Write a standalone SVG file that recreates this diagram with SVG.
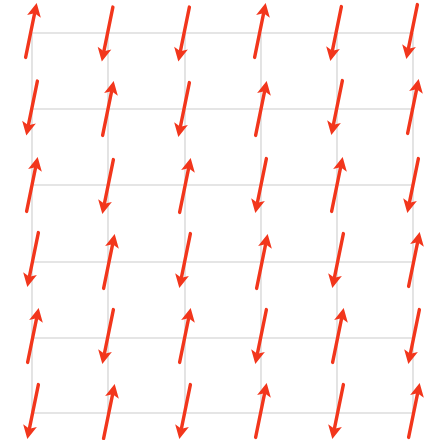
<svg xmlns="http://www.w3.org/2000/svg" xmlns:xlink="http://www.w3.org/1999/xlink" width="434" height="440" viewBox="0 0 434 440">
<style>
.grid line{stroke:#dddddd;stroke-width:1.6;fill:none}
.shaft{stroke:#f2361c;stroke-width:3.4;stroke-linecap:round;fill:none}
.head{fill:#f2361c;stroke:none}
</style>
<defs>
<g id="spin">
<line class="shaft" x1="0" y1="27" x2="0" y2="-17"/>
<polygon class="head" points="0,-28.5 7,-15 0,-18 -7,-15"/>
</g>
</defs>
<rect width="434" height="440" fill="#ffffff"/>
<g id="connectors" class="grid">
<line x1="32" y1="33" x2="413" y2="33"/>
<line x1="32" y1="109" x2="413" y2="109"/>
<line x1="32" y1="185" x2="413" y2="185"/>
<line x1="32" y1="262" x2="413" y2="262"/>
<line x1="32" y1="338" x2="413" y2="338"/>
<line x1="32" y1="413" x2="413" y2="413"/>
<line x1="32" y1="33" x2="32" y2="413"/>
<line x1="108" y1="33" x2="108" y2="413"/>
<line x1="185" y1="33" x2="185" y2="413"/>
<line x1="261" y1="33" x2="261" y2="413"/>
<line x1="337" y1="33" x2="337" y2="413"/>
<line x1="413" y1="33" x2="413" y2="413"/>
</g>
<!-- row 0 -->
<g id="s00"><use xlink:href="#spin" transform="translate(31,31) rotate(11.5)"/></g>
<g id="s01"><use xlink:href="#spin" transform="translate(107.5,33.5) rotate(191.5)"/></g>
<g id="s02"><use xlink:href="#spin" transform="translate(184,33.5) rotate(191.5)"/></g>
<g id="s03"><use xlink:href="#spin" transform="translate(260,31) rotate(11.5)"/></g>
<g id="s04"><use xlink:href="#spin" transform="translate(336,33) rotate(191.5)"/></g>
<g id="s05"><use xlink:href="#spin" transform="translate(412,31) rotate(191.5)"/></g>
<!-- row 1 -->
<g id="s10"><use xlink:href="#spin" transform="translate(32,107.5) rotate(191.5)"/></g>
<g id="s11"><use xlink:href="#spin" transform="translate(108,109) rotate(11.5)"/></g>
<g id="s12"><use xlink:href="#spin" transform="translate(184,109) rotate(191.5)"/></g>
<g id="s13"><use xlink:href="#spin" transform="translate(261,109) rotate(11.5)"/></g>
<g id="s14"><use xlink:href="#spin" transform="translate(337,107) rotate(191.5)"/></g>
<g id="s15"><use xlink:href="#spin" transform="translate(413,107) rotate(11.5)"/></g>
<!-- row 2 -->
<g id="s20"><use xlink:href="#spin" transform="translate(32,185) rotate(11.5)"/></g>
<g id="s21"><use xlink:href="#spin" transform="translate(108,186) rotate(191.5)"/></g>
<g id="s22"><use xlink:href="#spin" transform="translate(185,186) rotate(11.5)"/></g>
<g id="s23"><use xlink:href="#spin" transform="translate(261,185) rotate(191.5)"/></g>
<g id="s24"><use xlink:href="#spin" transform="translate(337,185) rotate(11.5)"/></g>
<g id="s25"><use xlink:href="#spin" transform="translate(413,185) rotate(191.5)"/></g>
<!-- row 3 -->
<g id="s30"><use xlink:href="#spin" transform="translate(33,259) rotate(191.5)"/></g>
<g id="s31"><use xlink:href="#spin" transform="translate(109,262) rotate(11.5)"/></g>
<g id="s32"><use xlink:href="#spin" transform="translate(185,260) rotate(191.5)"/></g>
<g id="s33"><use xlink:href="#spin" transform="translate(262,262) rotate(11.5)"/></g>
<g id="s34"><use xlink:href="#spin" transform="translate(338,260) rotate(191.5)"/></g>
<g id="s35"><use xlink:href="#spin" transform="translate(414,260) rotate(11.5)"/></g>
<!-- row 4 -->
<g id="s40"><use xlink:href="#spin" transform="translate(33,336) rotate(11.5)"/></g>
<g id="s41"><use xlink:href="#spin" transform="translate(108,336) rotate(191.5)"/></g>
<g id="s42"><use xlink:href="#spin" transform="translate(185,336) rotate(11.5)"/></g>
<g id="s43"><use xlink:href="#spin" transform="translate(261,336) rotate(191.5)"/></g>
<g id="s44"><use xlink:href="#spin" transform="translate(338,336) rotate(11.5)"/></g>
<g id="s45"><use xlink:href="#spin" transform="translate(414,336) rotate(191.5)"/></g>
<!-- row 5 -->
<g id="s50"><use xlink:href="#spin" transform="translate(33,411) rotate(191.5)"/></g>
<g id="s51"><use xlink:href="#spin" transform="translate(109,412) rotate(11.5)"/></g>
<g id="s52"><use xlink:href="#spin" transform="translate(185,411) rotate(191.5)"/></g>
<g id="s53"><use xlink:href="#spin" transform="translate(261,411) rotate(11.5)"/></g>
<g id="s54"><use xlink:href="#spin" transform="translate(338,411) rotate(191.5)"/></g>
<g id="s55"><use xlink:href="#spin" transform="translate(414,411) rotate(11.5)"/></g>
</svg>
